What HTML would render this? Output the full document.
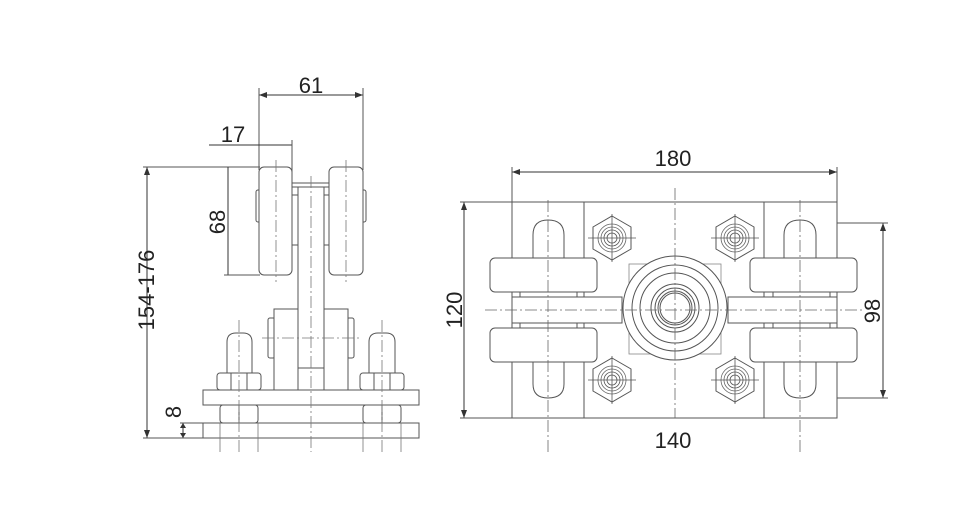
<!DOCTYPE html>
<html><head><meta charset="utf-8"><style>html,body{margin:0;padding:0;background:#fff}svg{display:block}</style></head>
<body>
<svg width="964" height="520" viewBox="0 0 964 520" xmlns="http://www.w3.org/2000/svg" font-family="Liberation Sans, sans-serif">
<defs>
<marker id="a" markerWidth="8" markerHeight="6" refX="8" refY="3" orient="auto-start-reverse" markerUnits="userSpaceOnUse"><path d="M0,0 L8,3 L0,6z" fill="#333"/></marker>
<g id="nut">
<polygon points="0,-22 19,-11 19,11 0,22 -19,11 -19,-11" fill="#fff" stroke="#555" stroke-width="1"/>
<circle r="14" fill="none" stroke="#666" stroke-width="0.8"/>
<circle r="11" fill="none" stroke="#666" stroke-width="0.8"/>
<circle r="8" fill="none" stroke="#555" stroke-width="0.8"/>
<circle r="5" fill="none" stroke="#555" stroke-width="0.8"/>
<line x1="-24" y1="0" x2="24" y2="0" stroke="#555" stroke-width="0.8"/>
<line x1="0" y1="-24" x2="0" y2="24" stroke="#555" stroke-width="0.8"/>
</g>
</defs>
<g stroke="#555" stroke-width="1" fill="#fff">
<line x1="259" y1="95" x2="363" y2="95" marker-start="url(#a)" marker-end="url(#a)" stroke="#333"/>
<line x1="259" y1="88" x2="259" y2="170"/><line x1="363" y1="88" x2="363" y2="170"/>
<line x1="209" y1="145" x2="292" y2="145" stroke="#333"/>
<line x1="292" y1="140" x2="292" y2="185"/>
<line x1="147" y1="167" x2="147" y2="438" marker-start="url(#a)" marker-end="url(#a)" stroke="#333"/>
<line x1="143" y1="167" x2="260" y2="167"/><line x1="143" y1="438" x2="205" y2="438"/>
<line x1="228" y1="167" x2="228" y2="275" stroke="#333"/>
<line x1="224" y1="275" x2="260" y2="275"/>
<line x1="180" y1="423" x2="205" y2="423"/>
<line x1="183" y1="423" x2="183" y2="438" stroke="#333"/>
<path d="M180,428 L183,423 L186,428z M180,433 L183,438 L186,433z" fill="#333" stroke="none"/>
<rect x="256" y="190" width="5" height="32" rx="2"/>
<rect x="361" y="190" width="5" height="32" rx="2"/>
<rect x="259" y="167" width="33" height="108" rx="5"/>
<rect x="329" y="167" width="34" height="108" rx="5"/>
<rect x="292" y="183" width="37" height="4"/>
<rect x="292" y="195" width="6" height="50"/>
<rect x="324" y="195" width="5" height="50"/>
<rect x="268" y="318" width="7" height="40" rx="2"/>
<rect x="347" y="318" width="7" height="40" rx="2"/>
<rect x="274" y="309" width="24" height="81"/>
<rect x="324" y="309" width="24" height="81"/>
<rect x="298" y="187" width="26" height="181"/>
<path d="M227,373 V342 Q227,333 236,333 H243 Q252,333 252,342 V373z"/>
<path d="M369,373 V342 Q369,333 378,333 H386 Q395,333 395,342 V373z"/>
<rect x="217" y="373" width="44" height="17" rx="3"/>
<line x1="231" y1="373" x2="231" y2="390"/><line x1="247" y1="373" x2="247" y2="390"/>
<rect x="360" y="373" width="44" height="17" rx="3"/>
<line x1="374" y1="373" x2="374" y2="390"/><line x1="390" y1="373" x2="390" y2="390"/>
<rect x="203" y="390" width="216" height="15"/>
<rect x="220" y="405" width="38" height="18" rx="3"/>
<line x1="239" y1="405" x2="239" y2="423"/>
<rect x="363" y="405" width="38" height="18" rx="3"/>
<line x1="382" y1="405" x2="382" y2="423"/>
<rect x="203" y="423" width="216" height="15"/>
<g stroke="#777" stroke-width="0.8" stroke-dasharray="12,3,2,3" fill="none">
<line x1="311" y1="176" x2="311" y2="452"/>
<line x1="276" y1="160" x2="276" y2="282"/>
<line x1="346" y1="160" x2="346" y2="282"/>
<line x1="239" y1="320" x2="239" y2="452"/>
<line x1="382" y1="320" x2="382" y2="452"/>
<line x1="262" y1="338" x2="360" y2="338"/>
</g>
<line x1="220" y1="423" x2="220" y2="452" stroke="#777" stroke-width="0.8"/>
<line x1="258" y1="423" x2="258" y2="452" stroke="#777" stroke-width="0.8"/>
<line x1="363" y1="423" x2="363" y2="452" stroke="#777" stroke-width="0.8"/>
<line x1="401" y1="423" x2="401" y2="452" stroke="#777" stroke-width="0.8"/>

<line x1="512" y1="172" x2="837" y2="172" marker-start="url(#a)" marker-end="url(#a)" stroke="#333"/>
<line x1="512" y1="167" x2="512" y2="202"/><line x1="837" y1="167" x2="837" y2="202"/>
<line x1="464" y1="202" x2="464" y2="418" marker-start="url(#a)" marker-end="url(#a)" stroke="#333"/>
<line x1="460" y1="202" x2="512" y2="202"/><line x1="460" y1="418" x2="512" y2="418"/>
<line x1="883" y1="223" x2="883" y2="398" marker-start="url(#a)" marker-end="url(#a)" stroke="#333"/>
<line x1="800" y1="223" x2="888" y2="223"/><line x1="800" y1="398" x2="888" y2="398"/>
<rect x="512" y="202" width="325" height="216"/>
<rect x="584" y="202" width="180" height="216"/>
<path d="M533,258 V235 Q533,220 548,220 Q564,220 564,235 V258z"/>
<path d="M533,362 V384 Q533,398 548,398 Q564,398 564,384 V362z"/>
<path d="M784,258 V235 Q784,220 800,220 Q816,220 816,235 V258z"/>
<path d="M784,362 V384 Q784,398 800,398 Q816,398 816,384 V362z"/>
<rect x="512" y="297" width="110" height="26"/>
<rect x="728" y="297" width="109" height="26"/>
<rect x="520" y="292" width="57" height="5"/><rect x="520" y="323" width="57" height="5"/>
<rect x="773" y="292" width="57" height="5"/><rect x="773" y="323" width="57" height="5"/>
<rect x="490" y="258" width="107" height="34" rx="5"/>
<rect x="490" y="328" width="107" height="34" rx="5"/>
<rect x="750" y="258" width="107" height="34" rx="5"/>
<rect x="750" y="328" width="107" height="34" rx="5"/>
<rect x="629" y="264" width="92" height="90" fill="none" stroke="#888" stroke-width="0.8"/>
<circle cx="675" cy="308" r="52"/>
<circle cx="675" cy="308" r="43" fill="none"/>
<circle cx="675" cy="308" r="35" fill="none"/>
<circle cx="675" cy="308" r="24" fill="none"/>
<circle cx="675" cy="308" r="20" fill="none"/>
<circle cx="675" cy="308" r="17" fill="none"/>
<circle cx="675" cy="308" r="15" fill="none"/>
<use href="#nut" x="612" y="238"/>
<use href="#nut" x="735" y="238"/>
<use href="#nut" x="612" y="380"/>
<use href="#nut" x="735" y="380"/>
<g stroke="#666" stroke-width="0.8" stroke-dasharray="12,3,2,3" fill="none">
<line x1="675" y1="188" x2="675" y2="418"/>
<line x1="485" y1="310" x2="865" y2="310"/>
<line x1="548" y1="200" x2="548" y2="452"/>
<line x1="800" y1="200" x2="800" y2="452"/>
</g>
</g>
<g fill="#222" font-size="22" text-anchor="middle">
<text x="311" y="93">61</text>
<text x="233" y="142">17</text>
<text x="673" y="166">180</text>
<text x="673" y="448">140</text>
<text transform="translate(154,290) rotate(-90)">154-176</text>
<text transform="translate(225,222) rotate(-90)">68</text>
<text transform="translate(181,412) rotate(-90)">8</text>
<text transform="translate(462,310) rotate(-90)">120</text>
<text transform="translate(880,311) rotate(-90)">98</text>
</g>
</svg>
</body></html>
